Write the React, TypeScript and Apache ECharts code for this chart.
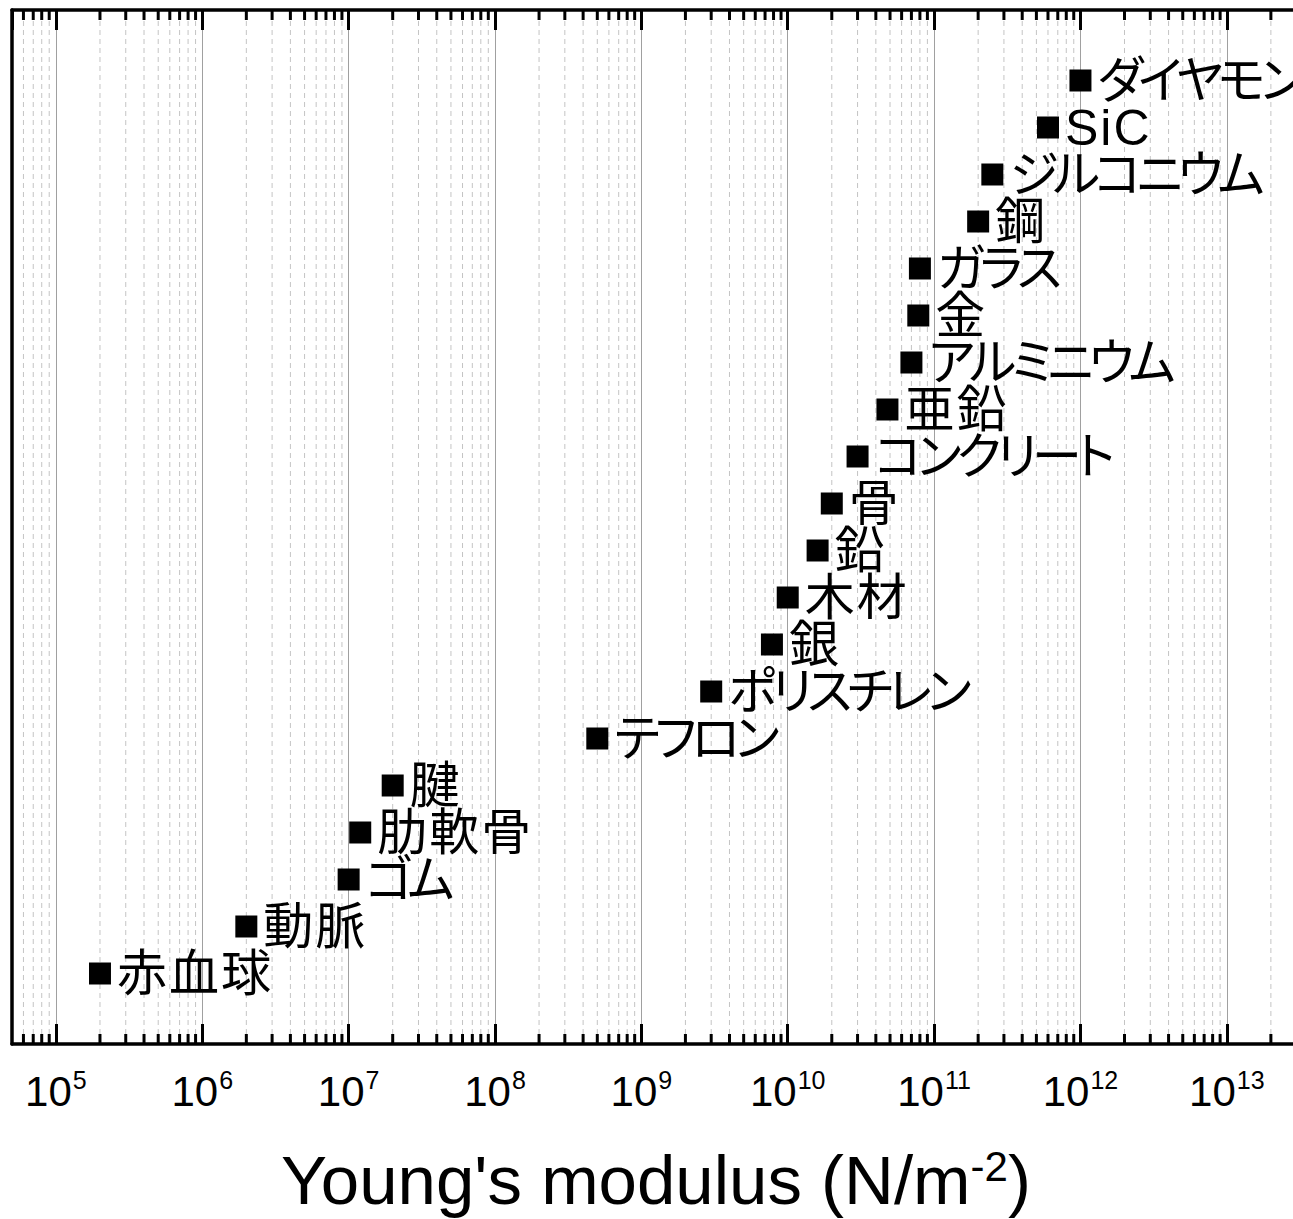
import React, { useEffect, useRef } from "react";
import * as echarts from "echarts";

// Materials, bottom to top
const materials = [
  "赤血球", "動脈", "ゴム", "肋軟骨", "腱", "テフロン", "ポリスチレン", "銀", "木材", "鉛",
  "骨", "コンクリート", "亜鉛", "アルミニウム", "金", "ガラス", "鋼", "ジルコニウム", "SiC", "ダイヤモンド",
];
// Young's modulus (N/m^2)
const moduli = [
  2e5, 2e6, 1e7, 1.2e7, 2e7, 5e8, 3e9, 7.8e9, 1e10, 1.6e10,
  2e10, 3e10, 4.8e10, 7e10, 7.8e10, 8e10, 2e11, 2.5e11, 6e11, 1e12,
];
// axis extents (log10 exponents)
const xMinExp = 4.7;
const xMaxExp = 13.5;
const minorMultipliers = [2, 3, 4, 5, 6, 7, 8, 9];
const decadeExps = [4, 5, 6, 7, 8, 9, 10, 11, 12, 13];

const FONT = "'Liberation Sans', Arial, 'Noto Sans CJK JP', sans-serif";
const KANA_FONT = "KanaX, " + FONT;
const KANJI_FONT = "KanjiX, " + FONT;

export default function App() {
  const ref = useRef<HTMLDivElement>(null);
  useEffect(() => {
    if (!ref.current) return;
    const chart = echarts.init(ref.current, undefined, { renderer: "svg" });
    const xMin = Math.pow(10, xMinExp);
    const xMax = Math.pow(10, xMaxExp);
    const minorValues: number[][] = [];
    decadeExps.forEach((e) => {
      minorMultipliers.forEach((m) => {
        const v = m * Math.pow(10, e);
        if (v > xMin && v < xMax) minorValues.push([v, 0]);
      });
    });

    const labelFormatter = (value: number) => {
      const e = Math.log10(value);
      if (Math.abs(e - Math.round(e)) > 1e-6) return "";
      return `{b|10}{s|${Math.round(e)}}`;
    };

    const option: any = {
      animation: false,
      grid: { left: 12, right: -7, top: 10, bottom: 175, outerBoundsMode: "none", containLabel: false },
      xAxis: [
        {
          type: "log",
          logBase: 10,
          min: xMin,
          max: xMax,
          position: "bottom",
          axisLine: { show: true, onZero: false, lineStyle: { color: "#000", width: 3.5 } },
          axisTick: { show: true, inside: true, length: 20, lineStyle: { color: "#000", width: 3 } },
          axisLabel: {
            margin: 23,
            formatter: labelFormatter,
            showMinLabel: false,
            showMaxLabel: false,
            rich: {
              b: { fontSize: 42, fontFamily: FONT, color: "#000", lineHeight: 46, verticalAlign: "bottom" },
              s: { fontSize: 25, fontFamily: FONT, color: "#000", lineHeight: 33, verticalAlign: "top", padding: [0, 0, 0, 1] },
            },
          },
          splitLine: { show: true, lineStyle: { color: "#a0a0a0", width: 1 } },
          minorTick: { show: false },
          name: "{a|Young's modulus (N/m}{s|-2}{a|)}",
          nameLocation: "middle",
          nameGap: 101,
          nameTextStyle: {
            rich: {
              a: { fontSize: 69, fontFamily: FONT, color: "#000", lineHeight: 70, verticalAlign: "bottom" },
              s: { fontSize: 42, fontFamily: FONT, color: "#000", lineHeight: 46, verticalAlign: "top" },
            },
          },
        },
        {
          type: "log",
          logBase: 10,
          min: xMin,
          max: xMax,
          position: "top",
          axisLine: { show: true, onZero: false, lineStyle: { color: "#000", width: 3.5 } },
          axisTick: { show: true, inside: true, length: 20, lineStyle: { color: "#000", width: 3 } },
          axisLabel: { show: false },
          splitLine: { show: false },
        },
      ],
      yAxis: {
        type: "value",
        min: -0.5,
        max: 21.5,
        axisLine: { show: true, onZero: false, lineStyle: { color: "#000", width: 3.5 } },
        axisTick: { show: false },
        axisLabel: { show: false },
        splitLine: { show: false },
      },
      series: [
        {
          type: "custom",
          silent: true,
          z: 1,
          xAxisIndex: 0,
          yAxisIndex: 0,
          data: minorValues,
          renderItem: (params: any, api: any) => {
            const x = api.coord([api.value(0), 0])[0];
            const cs = params.coordSys;
            const top = cs.y;
            const bottom = cs.y + cs.height;
            return {
              type: "group",
              children: [
                {
                  type: "line",
                  shape: { x1: x, y1: top + 2, x2: x, y2: bottom - 2 },
                  style: { stroke: "#c4c4c4", lineWidth: 1, lineDash: [5, 4] },
                },
                {
                  type: "line",
                  shape: { x1: x, y1: bottom, x2: x, y2: bottom - 10 },
                  style: { stroke: "#000", lineWidth: 3 },
                },
                {
                  type: "line",
                  shape: { x1: x, y1: top, x2: x, y2: top + 10 },
                  style: { stroke: "#000", lineWidth: 3 },
                },
              ],
            };
          },
        },
        {
          type: "scatter",
          z: 3,
          xAxisIndex: 0,
          yAxisIndex: 0,
          symbol: "rect",
          symbolSize: 22,
          itemStyle: { color: "#000", opacity: 1 },
          data: moduli.map((v, i) => ({
            value: [v, i + 1],
            label: { fontFamily: /[\u30A0-\u30FF]/.test(materials[i]) ? KANA_FONT : KANJI_FONT },
          })),
          label: {
            show: true,
            position: "right",
            distance: 6,
            color: "#000",
            fontSize: 50,
            fontFamily: FONT,
            formatter: (p: any) => materials[p.dataIndex],
          },
        },
      ],
    };
    chart.setOption(option);
    return () => chart.dispose();
  }, []);

  return (
    <>
      <style>{`#chart-root text { font-feature-settings: "palt" 1; }
#chart-root text[style*="KanaX"] { letter-spacing: -5px; }
#chart-root text[style*="KanjiX"] { letter-spacing: 2px; }`}</style>
      <div
        id="chart-root"
        ref={ref}
        style={{ position: "fixed", left: 0, top: 0, width: 1293, height: 1219, background: "#fff" }}
      />
    </>
  );
}
